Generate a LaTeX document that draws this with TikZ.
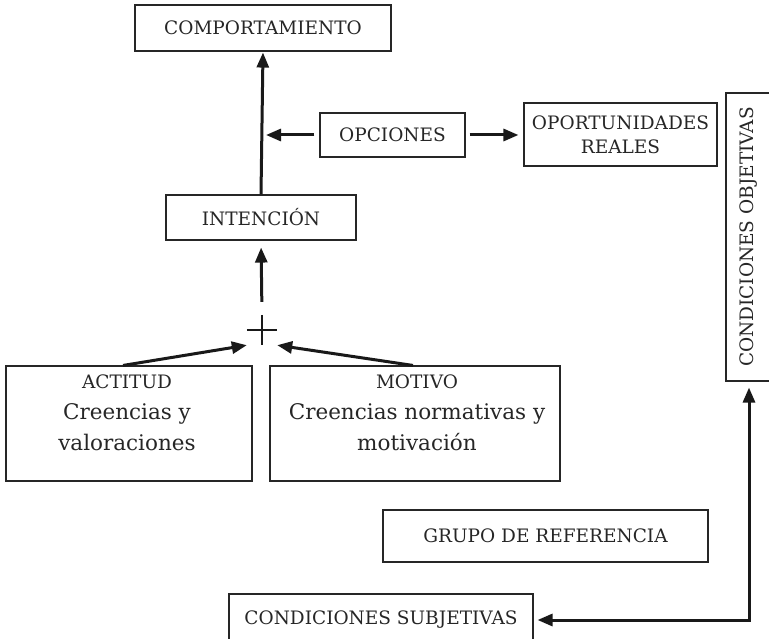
\documentclass[tikz,border=0pt]{standalone}
\usepackage{fontspec}
\setmainfont{DejaVu Serif}
\usetikzlibrary{arrows.meta,calc}
\newcommand\capsz{\fontsize{18.5}{24}\selectfont}
\newcommand\lowsz{\fontsize{21.5}{31}\selectfont}
\begin{document}
\begin{tikzpicture}[x=1pt,y=-1pt,
  box/.style={draw=black!85, line width=1.1pt, inner sep=0pt, align=center, font=\capsz, text=black!85},
  lbl/.style={inner sep=0pt, align=center, text=black!85},
  arr/.style={line width=3pt, draw=black!90, -{Triangle[length=15pt,width=12pt]}},
  dblarr/.style={line width=3pt, draw=black!90, {Triangle[length=15pt,width=12pt]}-{Triangle[length=15pt,width=12pt]}},
  plusline/.style={line width=2.8pt, draw=black!90}]
\useasboundingbox (0,0) rectangle (769,639);

\node[box, minimum width=256, minimum height=46] (comp) at (263,28) {COMPORTAMIENTO};
\node[box, minimum width=145, minimum height=44] (opc) at (392.5,135) {OPCIONES};
\node[box, minimum width=193, minimum height=63] (oport) at (620.5,134.5) {OPORTUNIDADES\\REALES};
\node[box, minimum width=52, minimum height=288] (obj) at (752,237) {};
\node[lbl, rotate=90, font=\capsz] (objtext) at (749,237) {CONDICIONES OBJETIVAS};
\node[box, minimum width=190, minimum height=45] (int) at (261,217.5) {INTENCIÓN};
\node[inner sep=0pt, minimum size=30] (plus) at (262,330) {};
\draw[plusline] (plus.north) -- (plus.south) (plus.west) -- (plus.east);
\node[box, minimum width=246, minimum height=115] (act) at (129,423.5) {};
\node[lbl, font=\lowsz] (acttext) at (127,413) {{\capsz ACTITUD}\\Creencias y\\valoraciones};
\node[box, minimum width=290, minimum height=115] (mot) at (415,423.5) {};
\node[lbl, font=\lowsz] (mottext) at (417,413) {{\capsz MOTIVO}\\Creencias normativas y\\motivación};
\node[box, minimum width=325, minimum height=52] (grp) at (545.5,536) {GRUPO DE REFERENCIA};
\node[box, minimum width=304, minimum height=52] (subj) at (381,620) {CONDICIONES SUBJETIVAS};

\draw[arr, shorten >=1pt] (int.north) -- (comp.south);
\draw[arr, shorten <=5pt, shorten >=5pt] (opc.west) -- (int.north |- opc.west);
\draw[arr, shorten <=4pt, shorten >=5pt] (opc.east) -- (oport.west |- opc.east);
\draw[arr, shorten <=13pt, shorten >=7pt] (plus.north) -- (int.south);
\draw[arr] ($(act.north)+(-6,0)$) -- (plus.south west);
\draw[arr] ($(mot.north)+(-2,0)$) -- (plus.south east);
\draw[dblarr, shorten <=4pt, shorten >=6pt] (subj.east) -- (subj.east -| objtext.center) -- (objtext.center |- obj.south);
\end{tikzpicture}
\end{document}
